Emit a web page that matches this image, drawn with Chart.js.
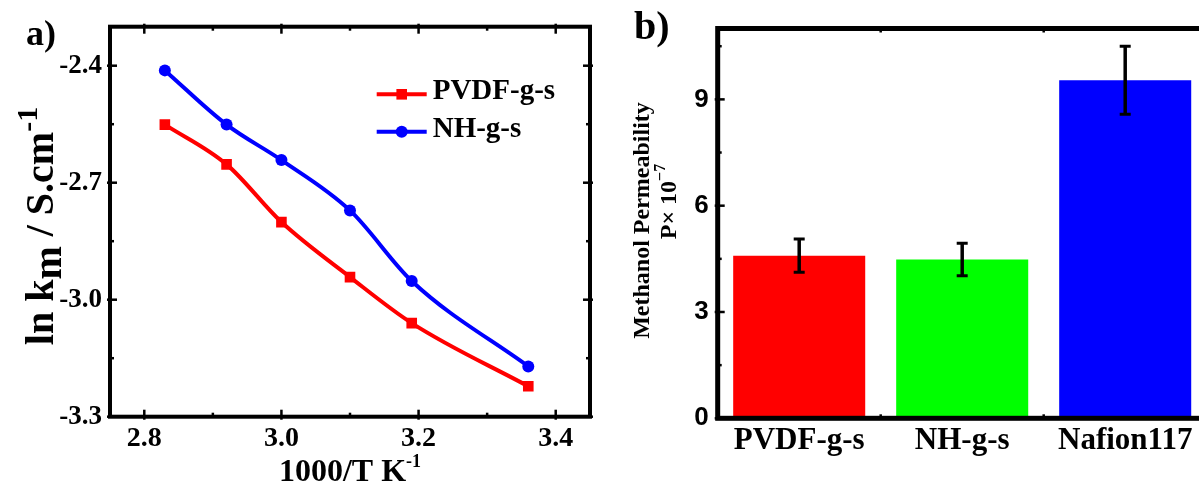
<!DOCTYPE html>
<html>
<head>
<meta charset="utf-8">
<script src="https://cdn.jsdelivr.net/npm/chart.js@4.4.1/dist/chart.umd.min.js"></script>
<style>
  html, body { margin: 0; padding: 0; background: #fff; overflow: hidden; width: 1199px; height: 484px; }
  #chartA { position: absolute; left: 0; top: 0; }
  #chartB { position: absolute; left: 600px; top: 0; }
</style>
</head>
<body>
<canvas id="chartA" width="600" height="484"></canvas>
<canvas id="chartB" width="620" height="484"></canvas>
<script>
const serif = '"Liberation Serif", "Times New Roman", serif';
const sans = '"Liberation Sans", Arial, sans-serif';

// panel a) ln km vs 1000/T
const invT = [2.83, 2.92, 3.00, 3.10, 3.19, 3.36];
const pvdfLnK = [-2.551, -2.653, -2.801, -2.942, -3.060, -3.222];
const nhLnK = [-2.412, -2.551, -2.642, -2.771, -2.952, -3.171];
const xTicksA = [2.8, 3.0, 3.2, 3.4];
const yTicksA = [-3.3, -3.0, -2.7, -2.4];

// panel b) methanol permeability
const membranes = ['PVDF-g-s', 'NH-g-s', 'Nafion117'];
const permeability = [4.59, 4.48, 9.54];
const permError = [0.47, 0.46, 0.96];
const permColors = ['#ff0000', '#00ff00', '#0000ff'];
const yTicksB = [0, 3, 6, 9];

// text with sub/superscripts, centered on (x, y) baseline
function richText(ctx, parts, x, y, rotate) {
    ctx.save();
    ctx.translate(x, y);
    if (rotate) ctx.rotate(-Math.PI / 2);
    ctx.fillStyle = '#000';
    ctx.textBaseline = 'alphabetic';
    ctx.textAlign = 'left';
    let total = 0;
    parts.forEach(p => {
        ctx.font = 'bold ' + p[1] + 'px ' + serif;
        total += ctx.measureText(p[0]).width;
    });
    let cx = -total / 2;
    parts.forEach(p => {
        ctx.font = 'bold ' + p[1] + 'px ' + serif;
        ctx.fillText(p[0], cx, p[2] || 0);
        cx += ctx.measureText(p[0]).width;
    });
    ctx.restore();
}

// box frame with inward tick marks on all four sides
function drawFrame(ctx, area, xMajor, xMinor, yMajor, yMinor, frameWidth) {
    ctx.save();
    ctx.strokeStyle = '#000';
    ctx.lineCap = 'butt';
    ctx.lineWidth = 2.5;
    const seg = (x1, y1, x2, y2) => { ctx.beginPath(); ctx.moveTo(x1, y1); ctx.lineTo(x2, y2); ctx.stroke(); };
    xMajor.forEach(px => { seg(px, area.bottom + 3, px, area.bottom - 7); seg(px, area.top - 3, px, area.top + 7); });
    xMinor.forEach(px => { seg(px, area.bottom, px, area.bottom - 4); seg(px, area.top, px, area.top + 4); });
    yMajor.forEach(py => { seg(area.left - 3, py, area.left + 7, py); seg(area.right + 3, py, area.right - 7, py); });
    yMinor.forEach(py => { seg(area.left, py, area.left + 4, py); seg(area.right, py, area.right - 4, py); });
    ctx.lineWidth = frameWidth;
    ctx.strokeRect(area.left, area.top, area.right - area.left, area.bottom - area.top);
    ctx.restore();
}

const panelA = {
    id: 'panelA',
    afterDraw(chart) {
        const ctx = chart.ctx;
        const area = chart.chartArea;
        const x = chart.scales.x, y = chart.scales.y;
        const mid = arr => arr.slice(1).map((v, i) => (v + arr[i]) / 2);
        drawFrame(ctx, area,
            xTicksA.map(v => x.getPixelForValue(v)),
            mid(xTicksA).map(v => x.getPixelForValue(v)),
            yTicksA.map(v => y.getPixelForValue(v)),
            mid(yTicksA).map(v => y.getPixelForValue(v)), 4);

        // legend: line + marker + label
        const rows = [[376.7, 94.3], [376.7, 131.7]];
        chart.data.datasets.forEach((ds, i) => {
            const [lx, ly] = rows[i];
            ctx.save();
            ctx.strokeStyle = ds.borderColor;
            ctx.lineWidth = 4;
            ctx.beginPath(); ctx.moveTo(lx, ly); ctx.lineTo(lx + 50, ly); ctx.stroke();
            ctx.fillStyle = ds.borderColor;
            ctx.beginPath();
            if (ds.pointStyle === 'rect') {
                const s = ds.pointRadius * Math.SQRT1_2;
                ctx.rect(lx + 25 - s, ly - s, 2 * s, 2 * s);
            } else {
                ctx.arc(lx + 25, ly, ds.pointRadius, 0, Math.PI * 2);
            }
            ctx.fill();
            ctx.fillStyle = '#000';
            ctx.font = 'bold 29px ' + serif;
            ctx.textBaseline = 'alphabetic';
            ctx.fillText(ds.label, lx + 56, ly + 5);
            ctx.restore();
        });

        // axis titles
        richText(ctx, [['1000/T K', 32, 0], ['-1', 18, -14]], (area.left + area.right) / 2, 481, false);
        richText(ctx, [['ln k', 40, 0], ['m', 40, 8], [' / S.cm', 40, 0], ['-1', 30, -16]], 53, 226, true);

        ctx.save();
        ctx.fillStyle = '#000';
        ctx.font = 'bold 36px ' + serif;
        ctx.fillText('a)', 26, 45);
        ctx.restore();
    }
};

new Chart(document.getElementById('chartA'), {
    type: 'line',
    data: {
        datasets: [{
            label: 'PVDF-g-s',
            data: invT.map((v, i) => ({ x: v, y: pvdfLnK[i] })),
            borderColor: '#ff0000',
            backgroundColor: '#ff0000',
            borderWidth: 4,
            pointStyle: 'rect',
            pointRadius: 7.5,
            pointBorderWidth: 0,
            cubicInterpolationMode: 'monotone'
        }, {
            label: 'NH-g-s',
            data: invT.map((v, i) => ({ x: v, y: nhLnK[i] })),
            borderColor: '#0000ff',
            backgroundColor: '#0000ff',
            borderWidth: 4,
            pointStyle: 'circle',
            pointRadius: 6,
            pointBorderWidth: 0,
            cubicInterpolationMode: 'monotone'
        }]
    },
    options: {
        responsive: false,
        animation: false,
        devicePixelRatio: 1,
        layout: { padding: { top: 26.7, right: 10, bottom: 0, left: 0 } },
        plugins: { legend: { display: false }, tooltip: { enabled: false } },
        scales: {
            x: {
                type: 'linear', min: 2.75, max: 3.45,
                grid: { display: false, drawTicks: false },
                border: { display: false },
                afterBuildTicks: s => { s.ticks = xTicksA.map(v => ({ value: v })); },
                afterFit: s => { s.height = 484 - 416.7; },
                ticks: {
                    padding: 5, color: '#000',
                    font: { family: serif, size: 28, weight: 'bold' },
                    callback: v => v.toFixed(1)
                }
            },
            y: {
                min: -3.3, max: -2.3,
                grid: { display: false, drawTicks: false },
                border: { display: false },
                afterBuildTicks: s => { s.ticks = yTicksA.map(v => ({ value: v })); },
                afterFit: s => { s.width = 110; },
                ticks: {
                    padding: 8, color: '#000',
                    font: { family: serif, size: 27, weight: 'bold' },
                    callback: v => v.toFixed(1)
                }
            }
        }
    },
    plugins: [panelA]
});

const panelB = {
    id: 'panelB',
    afterDatasetsDraw(chart) {
        const ctx = chart.ctx;
        const y = chart.scales.y;
        ctx.save();
        ctx.strokeStyle = '#000';
        chart.getDatasetMeta(0).data.forEach((bar, i) => {
            const hi = y.getPixelForValue(permeability[i] + permError[i]);
            const lo = y.getPixelForValue(permeability[i] - permError[i]);
            ctx.lineWidth = 3.5;
            ctx.beginPath(); ctx.moveTo(bar.x, hi); ctx.lineTo(bar.x, lo); ctx.stroke();
            ctx.lineWidth = 3;
            ctx.beginPath();
            ctx.moveTo(bar.x - 5.5, hi); ctx.lineTo(bar.x + 5.5, hi);
            ctx.moveTo(bar.x - 5.5, lo); ctx.lineTo(bar.x + 5.5, lo);
            ctx.stroke();
        });
        ctx.restore();
    },
    afterDraw(chart) {
        const ctx = chart.ctx;
        const area = chart.chartArea;
        const x = chart.scales.x, y = chart.scales.y;
        const bounds = membranes.slice(1).map((m, i) => (x.getPixelForValue(i) + x.getPixelForValue(i + 1)) / 2);
        const minor = yTicksB.map(v => v + 1.5).filter(v => v < y.max);
        drawFrame(ctx, area, [], bounds,
            yTicksB.map(v => y.getPixelForValue(v)),
            minor.map(v => y.getPixelForValue(v)), 5);

        richText(ctx, [['Methanol Permeability', 24, 0]], 48.5, 220.5, true);
        richText(ctx, [['P\u00d7 10', 24, 0], ['\u22127', 16, -11]], 76, 201.5, true);

        ctx.save();
        ctx.fillStyle = '#000';
        ctx.font = 'bold 40px ' + serif;
        ctx.fillText('b)', 34, 39);
        ctx.restore();
    }
};

new Chart(document.getElementById('chartB'), {
    type: 'bar',
    data: {
        labels: membranes,
        datasets: [{
            data: permeability,
            backgroundColor: permColors,
            borderWidth: 0,
            barPercentage: 0.81,
            categoryPercentage: 1
        }]
    },
    options: {
        responsive: false,
        animation: false,
        devicePixelRatio: 1,
        layout: { padding: { top: 28.5, right: 13.3, bottom: 0, left: 0 } },
        plugins: { legend: { display: false }, tooltip: { enabled: false } },
        scales: {
            x: {
                grid: { display: false, drawTicks: false },
                border: { display: false },
                afterFit: s => { s.height = 484 - 418.3; },
                ticks: {
                    padding: 4, color: '#000',
                    font: { family: serif, size: 31, weight: 'bold' }
                }
            },
            y: {
                min: 0, max: 11,
                grid: { display: false, drawTicks: false },
                border: { display: false },
                afterBuildTicks: s => { s.ticks = yTicksB.map(v => ({ value: v })); },
                afterFit: s => { s.width = 117.7; },
                ticks: {
                    padding: 9, color: '#000',
                    font: { family: sans, size: 26, weight: 'bold' }
                }
            }
        }
    },
    plugins: [panelB]
});
</script>
</body>
</html>
